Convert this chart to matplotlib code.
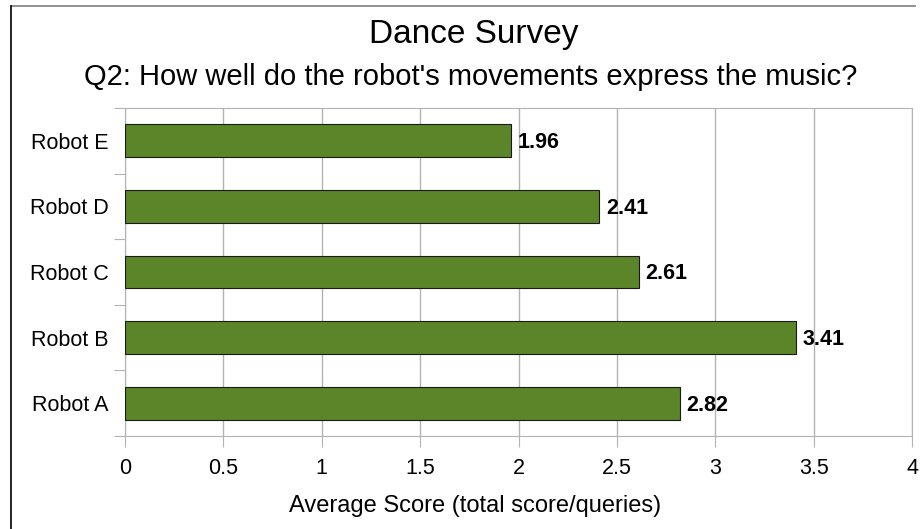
import matplotlib.pyplot as plt
from matplotlib.lines import Line2D

robots = ['Robot A', 'Robot B', 'Robot C', 'Robot D', 'Robot E']
scores = [2.82, 3.41, 2.61, 2.41, 1.96]

plt.rcParams['font.family'] = ['Liberation Sans', 'DejaVu Sans']

W, H = 924, 529
fig = plt.figure(figsize=(W / 100, H / 100), dpi=100)
ax = fig.add_axes([125 / W, 1 - 436 / H, (912 - 125) / W, (436 - 108) / H])

# frame edges of the chart (top grey, left black)
fig.lines.append(Line2D([10.5 / W, 915 / W], [1 - 5.5 / H, 1 - 5.5 / H], transform=fig.transFigure,
                        color='#7f7f7f', linewidth=1.2))
fig.lines.append(Line2D([10.5 / W, 10.5 / W], [0, 1 - 5.5 / H], transform=fig.transFigure,
                        color='#000000', linewidth=1.2))

y = range(len(robots))
ax.barh(y, scores, height=0.5, color='#5b8529', edgecolor='#1a1a1a', linewidth=0.8, zorder=3)
for i, v in enumerate(scores):
    ax.text(v + 0.035, i - 0.03, f'{v:.2f}', va='center', ha='left', fontsize=15.5, fontweight='bold')

ax.set_xlim(0, 4)
ax.set_ylim(-0.5, 4.5)
ax.set_xticks([i * 0.5 for i in range(9)])
ax.set_xticklabels(['0', '0.5', '1', '1.5', '2', '2.5', '3', '3.5', '4'], fontsize=15.5)
ax.xaxis.grid(True, color='#b3b3b3', linewidth=1, zorder=0)
ax.set_yticks([i - 0.5 for i in range(6)])
ax.set_yticklabels([])
ax.set_yticks(list(y), minor=True)
ax.set_yticklabels(robots, minor=True, fontsize=15.5)
ax.tick_params(axis='y', which='minor', length=0, pad=12)
ax.tick_params(axis='y', which='major', length=8, color='#b3b3b3')
ax.tick_params(axis='x', length=8, color='#b3b3b3', pad=8)
for s in ax.spines.values():
    s.set_color('#b3b3b3')

fig.text(475 / W, 1 - 506 / H, 'Average Score (total score/queries)', ha='center', va='center', fontsize=17)
fig.text(474 / W, 1 - 35 / H, 'Dance Survey', ha='center', va='center', fontsize=24)
fig.text(471 / W, 1 - 77 / H, "Q2: How well do the robot's movements express the music?",
         ha='center', va='center', fontsize=21)

fig.savefig('out.png', dpi=100)
